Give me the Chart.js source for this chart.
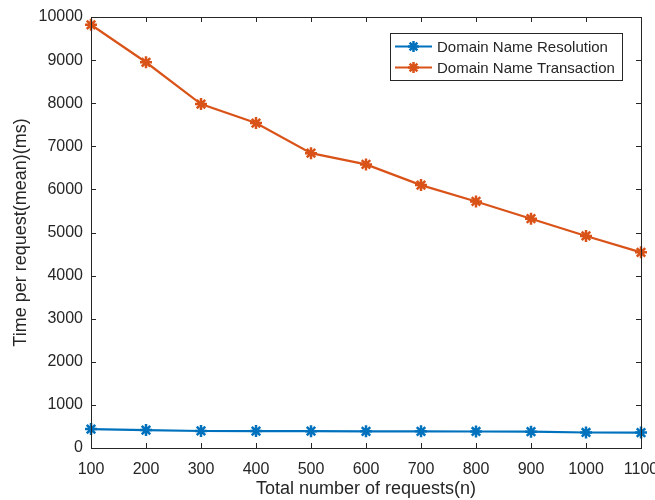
<!DOCTYPE html>
<html lang="en">
<head>
    <meta charset="UTF-8">
    <title>Time per request</title>
    <script src="https://cdn.jsdelivr.net/npm/chart.js"></script>
    <style>
        html, body { margin: 0; padding: 0; background: #fff; }
        .chart-container { width: 655px; height: 500px; }
    </style>
</head>
<body>
<div class="chart-container">
    <canvas id="timeChart"></canvas>
</div>

<script>
    // values
    const requestCounts = [100, 200, 300, 400, 500, 600, 700, 800, 900, 1000, 1100];
    const resolutionTimes = [440, 415, 395, 393, 390, 388, 388, 383, 378, 360, 358];
    const transactionTimes = [9820, 8950, 7980, 7540, 6840, 6580, 6100, 5720, 5320, 4920, 4540];
    const seriesNames = ["Domain Name Resolution", "Domain Name Transaction"];
    const seriesColors = ["#0072BD", "#D95319"];

    const axisColor = "#262626";
    const fontFamily = "'Liberation Sans', Arial, Helvetica, sans-serif";

    // MATLAB-like box with inward ticks and a framed legend in the top right
    const matlabAxes = {
        id: "matlabAxes",
        afterDraw(chart) {
            const { ctx, chartArea: a, scales } = chart;
            const tickLen = 5;
            ctx.save();
            ctx.strokeStyle = axisColor;
            ctx.lineWidth = 1;
            ctx.strokeRect(a.left + 0.5, a.top + 0.5, a.right - a.left, a.bottom - a.top);

            ctx.beginPath();
            scales.x.ticks.forEach(t => {
                const px = Math.round(scales.x.getPixelForValue(t.value)) + 0.5;
                ctx.moveTo(px, a.bottom); ctx.lineTo(px, a.bottom - tickLen);
                ctx.moveTo(px, a.top); ctx.lineTo(px, a.top + tickLen);
            });
            scales.y.ticks.forEach(t => {
                const py = Math.round(scales.y.getPixelForValue(t.value)) + 0.5;
                ctx.moveTo(a.left, py); ctx.lineTo(a.left + tickLen, py);
                ctx.moveTo(a.right, py); ctx.lineTo(a.right - tickLen, py);
            });
            ctx.stroke();

            // legend
            const boxX = 390.5, boxY = 33.5, boxW = 232, boxH = 47;
            ctx.fillStyle = "#fff";
            ctx.fillRect(boxX, boxY, boxW, boxH);
            ctx.strokeStyle = "#262626";
            ctx.strokeRect(boxX, boxY, boxW, boxH);
            ctx.font = "15px " + fontFamily;
            ctx.textBaseline = "middle";
            seriesNames.forEach((name, i) => {
                const cy = boxY + 13 + i * 21;
                ctx.strokeStyle = seriesColors[i];
                ctx.lineWidth = 2;
                ctx.beginPath();
                ctx.moveTo(395, cy); ctx.lineTo(432, cy);
                ctx.stroke();
                drawStar(ctx, 413.5, cy, 5.5, seriesColors[i]);
                ctx.fillStyle = axisColor;
                ctx.fillText(name, 437, cy + 1);
            });
            ctx.restore();
        }
    };

    function drawStar(ctx, x, y, r, color) {
        ctx.save();
        ctx.strokeStyle = color;
        ctx.lineWidth = 2.5;
        ctx.beginPath();
        for (let k = 0; k < 4; k++) {
            const ang = k * Math.PI / 4;
            ctx.moveTo(x - r * Math.cos(ang), y - r * Math.sin(ang));
            ctx.lineTo(x + r * Math.cos(ang), y + r * Math.sin(ang));
        }
        ctx.stroke();
        ctx.restore();
    }

    const makeDataset = (label, values, color) => ({
        label: label,
        data: requestCounts.map((n, i) => ({ x: n, y: values[i] })),
        borderColor: color,
        backgroundColor: color,
        borderWidth: 2.2,
        pointStyle: "star",
        pointRadius: 6,
        pointBorderWidth: 2.5,
        pointBorderColor: color,
        tension: 0,
        clip: false
    });

    new Chart(document.getElementById("timeChart"), {
        type: "line",
        data: {
            datasets: [
                makeDataset(seriesNames[0], resolutionTimes, seriesColors[0]),
                makeDataset(seriesNames[1], transactionTimes, seriesColors[1])
            ]
        },
        options: {
            responsive: true,
            maintainAspectRatio: false,
            animation: false,
            layout: { padding: { top: 17, right: 14, left: 0, bottom: 0 } },
            plugins: {
                legend: { display: false },
                tooltip: { enabled: false }
            },
            scales: {
                x: {
                    type: "linear",
                    min: 100,
                    max: 1100,
                    grid: { display: false, drawTicks: false },
                    border: { display: false },
                    ticks: {
                        stepSize: 100,
                        color: axisColor,
                        padding: 12,
                        maxRotation: 0,
                        autoSkip: false,
                        callback: v => String(v),
                        font: { family: fontFamily, size: 16 }
                    },
                    title: {
                        display: true,
                        text: "Total number of requests(n)",
                        color: axisColor,
                        padding: { top: 0, bottom: 0 },
                        font: { family: fontFamily, size: 18 }
                    },
                    afterFit(scale) {
                        scale.height = 52;
                        scale.paddingLeft = 0;
                        scale.paddingRight = 0;
                    }
                },
                y: {
                    min: 0,
                    max: 10000,
                    grid: { display: false, drawTicks: false },
                    border: { display: false },
                    ticks: {
                        stepSize: 1000,
                        color: axisColor,
                        padding: 8,
                        callback: v => String(v),
                        font: { family: fontFamily, size: 16 }
                    },
                    title: {
                        display: true,
                        text: "Time per request(mean)(ms)",
                        color: axisColor,
                        padding: { top: 10, bottom: 0 },
                        font: { family: fontFamily, size: 18 }
                    },
                    afterFit(scale) {
                        scale.width = 91;
                        scale.paddingTop = 0;
                        scale.paddingBottom = 0;
                    }
                }
            }
        },
        plugins: [matlabAxes]
    });
</script>
</body>
</html>
